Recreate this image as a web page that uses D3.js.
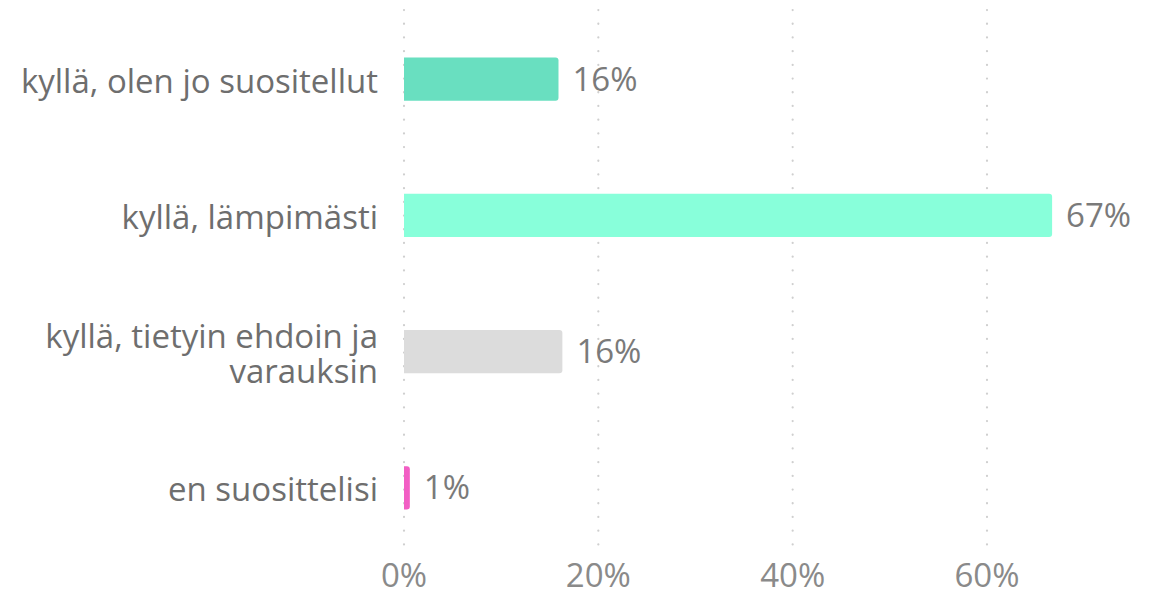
<!DOCTYPE html>
<html><head><meta charset="utf-8">
<script src="https://cdn.jsdelivr.net/npm/d3@7"></script>
<style>body{margin:0;background:#fff;}svg{display:block;font-family:"Open Sans",sans-serif;}</style>
</head><body>
<svg id="c" width="1160" height="591"></svg>
<script>
const categories = [["kyllä, olen jo suositellut"], ["kyllä, lämpimästi"], ["kyllä, tietyin ehdoin ja", "varauksin"], ["en suosittelisi"]];
const values = [15.9, 66.7, 16.3, 0.6];
const valueLabels = ["16%", "67%", "16%", "1%"];
const colors = ["#69DFC0", "#88FFDA", "#DCDCDC", "#F25EC4"];
const ticks = [0, 20, 40, 60];
const tickLabels = ["0%", "20%", "40%", "60%"];

const svg = d3.select("#c");
const x = d3.scaleLinear().domain([0, 60]).range([404, 987]);
const y = d3.scaleBand().domain(d3.range(categories.length)).range([11, 556]).paddingInner(0.684).paddingOuter(0.342);

// gridlines
svg.append("g").selectAll("line").data(ticks).join("line")
  .attr("x1", d => x(d)).attr("x2", d => x(d))
  .attr("y1", 10).attr("y2", 550)
  .attr("stroke", "#cfcfcf").attr("stroke-width", 2.2)
  .attr("stroke-linecap", "round").attr("stroke-dasharray", "0.1,13.6");

// bars
const r = 3;
svg.append("g").selectAll("path").data(values).join("path")
  .attr("d", (d, i) => {
    const x0 = x(0), x1 = x(d), y0 = y(i), h = y.bandwidth();
    const rr = Math.min(r, (x1 - x0) / 2);
    return `M${x0},${y0}H${x1 - rr}Q${x1},${y0} ${x1},${y0 + rr}V${y0 + h - rr}Q${x1},${y0 + h} ${x1 - rr},${y0 + h}H${x0}Z`;
  })
  .attr("fill", (d, i) => colors[i]);

// value labels
svg.append("g").selectAll("text").data(values).join("text")
  .attr("x", d => x(d) + 14).attr("y", (d, i) => y(i) + y.bandwidth() / 2)
  .attr("dy", "0.35em").attr("font-size", 33).attr("fill", "#7a7a7a")
  .text((d, i) => valueLabels[i]);

// category labels
const cat = svg.append("g").selectAll("text").data(categories).join("text")
  .attr("text-anchor", "end").attr("font-size", 33).attr("fill", "#6e6e6e")
  .attr("x", 378)
  .attr("y", (d, i) => y(i) + y.bandwidth() / 2 + 2 - (d.length - 1) * 17.5);
cat.selectAll("tspan").data(d => d).join("tspan")
  .attr("x", 378).attr("dy", (d, j) => j === 0 ? "0.35em" : 35).text(d => d);

// x tick labels
svg.append("g").selectAll("text").data(ticks).join("text")
  .attr("x", d => x(d)).attr("y", 587)
  .attr("text-anchor", "middle").attr("font-size", 33).attr("fill", "#8a8a8a")
  .text((d, i) => tickLabels[i]);
</script>
</body></html>
